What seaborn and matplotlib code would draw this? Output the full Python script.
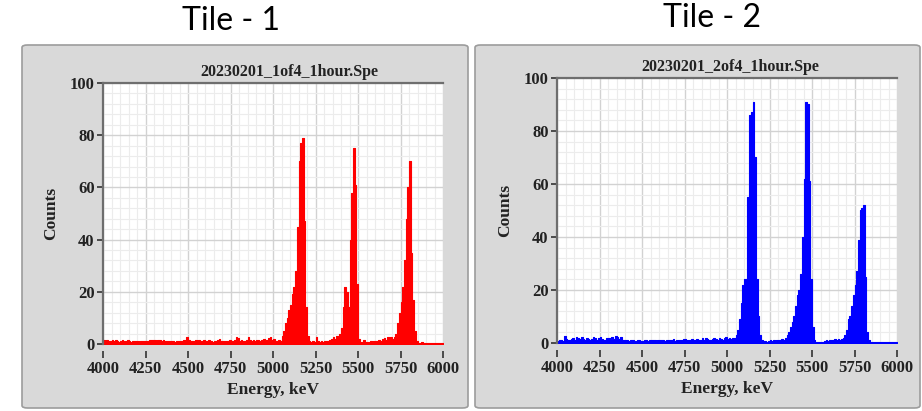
import numpy as np
import pandas as pd
import matplotlib
matplotlib.use('Agg')
import matplotlib.pyplot as plt
from matplotlib.patches import FancyBboxPatch
from matplotlib.ticker import MultipleLocator
import seaborn as sns

# ------------------------------------------------------------
# Datos: cuentas por canal de 10 keV (4000 - 5990 keV)
# ------------------------------------------------------------
energy = np.arange(4000, 6000, 10)

counts_tile1 = [
    1.5, 1.2, 1.4, 1.0, 1.3, 1.5, 1.1, 1.4, 1.2, 0.9, 1.3, 1.5, 1.2, 1.0, 1.4, 1.2, 0.8, 1.1, 1.3, 1.0,
    1.2, 0.9, 1.3, 1.0, 1.1, 0.8, 1.2, 1.4, 1.5, 1.6, 1.5, 1.3, 1.6, 1.4, 1.2, 1.5, 1.3, 1.0, 1.2, 1.1,
    1.0, 1.2, 0.9, 1.1, 1.3, 1.0, 1.2, 1.4, 1.1, 2.6, 1.5, 1.2, 1.3, 1.0, 1.4, 1.2, 1.5, 1.1, 1.3, 1.6,
    1.2, 1.0, 1.4, 1.2, 0.9, 1.3, 1.1, 1.5, 2.0, 1.2, 1.0, 1.3, 1.1, 1.2, 1.4, 1.0, 1.3, 1.5, 2.6, 2.4,
    1.2, 1.5, 1.3, 1.1, 1.4, 2.8, 1.6, 1.3, 1.5, 1.2, 1.4, 1.6, 1.3, 1.5, 1.8, 1.4, 1.6, 2.2, 2.5, 1.4,
    1.8, 1.2, 1.0, 1.5, 1.2, 3.0, 5.0, 8.0, 10.0, 13.0, 15.0, 19.0, 22.0, 28.0, 45.0, 70.0, 77.0, 79.0, 47.0, 14.0,
    3.0, 1.0, 0.8, 1.2, 0.7, 2.8, 1.0, 0.6, 1.2, 0.9, 1.0, 1.3, 1.1, 1.5, 2.0, 2.6, 1.8, 3.2, 2.5, 4.0,
    6.0, 14.0, 22.0, 20.0, 14.0, 40.0, 58.0, 75.0, 61.0, 23.0, 2.0, 0.5, 0.8, 1.5, 0.6, 0.9, 0.7, 1.0, 0.8, 1.2,
    1.0, 1.3, 1.6, 1.2, 1.8, 2.2, 1.5, 2.5, 1.8, 2.6, 2.0, 2.5, 4.0, 8.0, 12.0, 16.0, 22.0, 32.0, 48.0, 60.0,
    70.0, 35.0, 17.0, 5.0, 1.0, 0.5, 0.4, 0.6, 0.3, 0.5, 0.4, 0.3, 0.5, 0.4, 0.3, 0.4, 0.5, 0.3, 0.4, 0.3,
]

counts_tile2 = [
    0.8, 1.0, 1.2, 0.9, 2.5, 1.5, 1.2, 1.0, 1.4, 1.8, 1.2, 2.2, 2.0, 1.6, 2.2, 1.5, 1.2, 1.8, 1.4, 1.0,
    1.5, 2.4, 1.8, 1.2, 2.0, 2.3, 1.5, 1.1, 1.2, 1.8, 2.0, 1.4, 2.4, 1.6, 2.5, 2.2, 1.5, 2.4, 1.3, 1.0,
    1.0, 1.2, 0.8, 1.0, 1.1, 0.9, 0.8, 1.0, 1.2, 0.9, 0.7, 1.0, 1.1, 0.8, 1.0, 1.2, 1.3, 1.1, 0.9, 1.0,
    1.1, 1.2, 1.0, 0.8, 1.0, 1.2, 1.1, 1.3, 1.4, 0.9, 1.1, 1.3, 1.2, 1.0, 1.4, 1.5, 1.2, 1.0, 1.3, 1.6,
    1.0, 1.2, 1.5, 1.1, 1.3, 1.7, 1.2, 2.0, 1.4, 1.1, 1.3, 1.5, 1.8, 1.4, 1.2, 2.0, 1.6, 1.3, 1.8, 2.2,
    1.5, 1.8, 1.4, 2.0, 2.0, 3.0, 5.0, 9.0, 15.0, 22.0, 24.0, 24.0, 55.0, 86.0, 87.0, 91.0, 70.0, 24.0, 10.0, 3.0,
    1.0, 0.6, 0.8, 0.5, 0.9, 1.0, 0.7, 1.1, 0.8, 1.2, 1.0, 1.3, 1.5, 1.2, 2.0, 3.0, 4.0, 6.0, 8.0, 10.0,
    14.0, 18.0, 20.0, 26.0, 40.0, 62.0, 91.0, 90.0, 61.0, 24.0, 6.0, 1.0, 0.5, 0.3, 0.4, 0.3, 0.5, 0.8, 1.0, 0.9,
    1.1, 1.3, 1.0, 1.4, 1.2, 1.5, 1.3, 1.6, 2.0, 3.0, 5.0, 9.0, 10.0, 14.0, 18.0, 22.0, 27.0, 39.0, 50.0, 51.0,
    52.0, 25.0, 4.0, 1.0, 0.4, 0.3, 0.4, 0.3, 0.5, 0.3, 0.4, 0.3, 0.4, 0.3, 0.3, 0.4, 0.3, 0.4, 0.3, 0.3,
]

tile_titles = ['Tile - 1', 'Tile - 2']
file_names = ['20230201_1of4_1hour.Spe', '20230201_2of4_1hour.Spe']
colors = ['#ff0000', '#0000ff']
x_ticks = [4000, 4250, 4500, 4750, 5000, 5250, 5500, 5750, 6000]
y_ticks = [0, 20, 40, 60, 80, 100]

# ------------------------------------------------------------
# Estilo
# ------------------------------------------------------------
sns.set_theme(style="white")
plt.rcParams['font.family'] = ['Liberation Serif', 'DejaVu Serif']

W, H = 922, 411
fig = plt.figure(figsize=(W / 100, H / 100), dpi=100, facecolor='white')

def px(x, y):
    ''' pixel (desde arriba) -> fracción de figura '''
    return x / W, 1 - y / H

# marcos grises de cada panel  (x0, y0, x1, y1) en pixeles
frames = [(22, 45, 468, 408), (475, 45, 920, 408)]
# área de ejes: izquierda, derecha, arriba (100), abajo (0)
axes_px = [(103, 443, 83, 344), (557, 897, 78, 343)]
title_x = [0.547, 0.51]
tile_pos = [(231, 21), (712, 18)]

for i in range(2):
    x0, y0, x1, y1 = frames[i]
    fx0, fy1 = px(x0, y1)
    box = FancyBboxPatch((fx0, fy1), (x1 - x0) / W, (y1 - y0) / H,
                         boxstyle="round,pad=0,rounding_size=0.006",
                         transform=fig.transFigure, facecolor='#d9d9d9',
                         edgecolor='#9c9c9c', linewidth=1.2, zorder=0)
    fig.add_artist(box)

    l, r, t, b = axes_px[i]
    fl, fb = px(l, b)
    rect = [fl, fb, (r - l) / W, (b - t) / H]

    # ejes de fondo: solo la rejilla (así queda siempre debajo del espectro)
    ax_bg = fig.add_axes(rect, zorder=1)
    ax_bg.set_facecolor('white')
    ax_bg.set_xlim(4000, 6000)
    ax_bg.set_ylim(0, 100)
    ax_bg.set_xticks(x_ticks)
    ax_bg.set_yticks(y_ticks)
    ax_bg.xaxis.set_minor_locator(MultipleLocator(50))
    ax_bg.yaxis.set_minor_locator(MultipleLocator(4))
    ax_bg.grid(True, which='major', color='#d2d2d2', linewidth=1.0)
    ax_bg.grid(True, which='minor', color='#ececec', linewidth=0.8)
    ax_bg.tick_params(which='both', length=0, labelbottom=False, labelleft=False)
    for s in ax_bg.spines.values():
        s.set_visible(False)

    # ejes del espectro
    ax = fig.add_axes(rect, zorder=2)
    ax.patch.set_alpha(0)

    df = pd.DataFrame({'energy': energy,
                       'counts': counts_tile1 if i == 0 else counts_tile2})
    sns.histplot(data=df, x='energy', weights='counts',
                 bins=list(np.append(energy, 6000)), element='step', fill=True,
                 color=colors[i], alpha=1.0, linewidth=0.8, ax=ax)
    for art in ax.collections + ax.lines + ax.patches:
        art.set_edgecolor(colors[i])

    ax.set_xlim(4000, 6000)
    ax.set_ylim(0, 100)
    ax.set_xticks(x_ticks)
    ax.set_yticks(y_ticks)
    ax.grid(False)

    for s in ['right', 'bottom']:
        ax.spines[s].set_visible(False)
    for s in ['left', 'top']:
        ax.spines[s].set_color('#6e6e6e')
        ax.spines[s].set_linewidth(1.6)
    ax.spines['bottom'].set_position(('outward', 5))

    ax.tick_params(axis='x', which='major', direction='out', length=5, width=1.2,
                   color='#333333', pad=2, labelsize=12, bottom=True)
    ax.tick_params(axis='y', which='major', direction='out', length=4, width=1.2,
                   color='#333333', pad=2, labelsize=12, left=True)
    for lab in ax.get_xticklabels() + ax.get_yticklabels():
        lab.set_fontweight('bold')
        lab.set_color('#222222')

    ax.set_xlabel('Energy, keV', fontsize=12.5, fontweight='bold', color='#222222', labelpad=4)
    ax.set_ylabel('Counts', fontsize=12.5, fontweight='bold', color='#222222', labelpad=8)
    ax.set_title(file_names[i], fontsize=11.5, fontweight='bold', color='#222222',
                 x=title_x[i], pad=5)

    tx, ty = px(*tile_pos[i])
    fig.text(tx, ty, tile_titles[i], ha='center', va='center', fontsize=23,
             family=['Lato', 'DejaVu Sans'], color='black')

plt.savefig('out.png', dpi=100)
plt.close()
